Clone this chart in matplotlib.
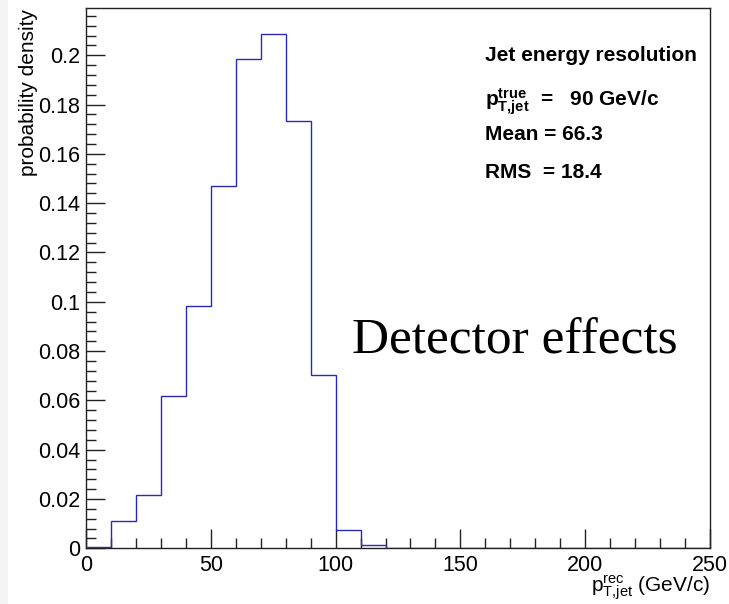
import numpy as np
import matplotlib
matplotlib.use("Agg")
import matplotlib.pyplot as plt
from matplotlib.patches import Rectangle
from matplotlib.ticker import MultipleLocator, FixedLocator, FixedFormatter

plt.rcParams["font.family"] = ["Liberation Sans", "DejaVu Sans"]
plt.rcParams["mathtext.fontset"] = "custom"
plt.rcParams["mathtext.rm"] = "Liberation Sans"
plt.rcParams["mathtext.it"] = "Liberation Sans:italic"
plt.rcParams["mathtext.bf"] = "Liberation Sans:bold"

# Reconstructed jet pT distribution for true pT = 90 GeV/c (10 GeV/c bins)
bin_edges = np.arange(0, 260, 10)
density = [0.0005, 0.0110, 0.0216, 0.0618, 0.0982, 0.1469, 0.1985, 0.2088,
           0.1733, 0.0704, 0.0073, 0.0013, 0.0, 0.0, 0.0, 0.0, 0.0, 0.0,
           0.0, 0.0, 0.0, 0.0, 0.0, 0.0, 0.0]

y_tick_values = [0, 0.02, 0.04, 0.06, 0.08, 0.10, 0.12, 0.14, 0.16, 0.18, 0.20]
y_tick_labels = ["0", "0.02", "0.04", "0.06", "0.08", "0.1", "0.12", "0.14",
                 "0.16", "0.18", "0.2"]
x_tick_values = [0, 50, 100, 150, 200, 250]

stats_title = "Jet energy resolution"
true_pt = 90
mean_val = 66.3
rms_val = 18.4

W, H = 729, 604
fig = plt.figure(figsize=(W / 100, H / 100), dpi=100)
fig.patch.set_facecolor("white")
fig.patches.append(Rectangle((0, 0), 8 / W, 1, transform=fig.transFigure,
                             facecolor="#f4f4f4", edgecolor="none", zorder=-1))

def fx(px):
    return px / W

def fy(py):
    return 1 - py / H

ax = fig.add_axes([fx(86), fy(548.3), fx(710) - fx(86), fy(8) - fy(548.3)])
ax.stairs(density, bin_edges, baseline=0, color="#2a2ab8", linewidth=1.0, zorder=3)

ax.set_xlim(0, 250)
ax.set_ylim(0, (548.3 - 8) / 2465)

ax.xaxis.set_major_locator(FixedLocator(x_tick_values))
ax.xaxis.set_minor_locator(MultipleLocator(10))
ax.yaxis.set_major_locator(FixedLocator(y_tick_values))
ax.yaxis.set_major_formatter(FixedFormatter(y_tick_labels))
ax.yaxis.set_minor_locator(MultipleLocator(0.004))

ax.tick_params(which="both", direction="in", top=False, right=False,
               color="#222222", width=1.0, labelsize=15.5)
ax.tick_params(which="major", length=14)
ax.tick_params(which="minor", length=7)
ax.tick_params(axis="x", pad=5)
ax.tick_params(axis="y", pad=4)
for s in ax.spines.values():
    s.set_color("#222222")
    s.set_linewidth(1.0)

# axis titles, right-aligned at the axis ends
fig.text(fx(710), fy(592), r"$\mathrm{p}_{\mathrm{T{,}jet}}^{\mathrm{rec}}$ (GeV/c)",
         ha="right", va="baseline", fontsize=15)
fig.text(fx(38), fy(9), "probability density", rotation=90, ha="right", va="top",
         fontsize=15)

# statistics block
tx = fx(485)
fig.text(tx, fy(61), stats_title, fontsize=15, fontweight="bold", va="baseline")
fig.text(tx, fy(106),
         r"$\mathbf{p}_{\mathbf{T{,}jet}}^{\mathbf{true}}$  =   " + f"{true_pt} GeV/c",
         fontsize=15, fontweight="bold", va="baseline")
fig.text(tx, fy(140), f"Mean = {mean_val}", fontsize=15, fontweight="bold", va="baseline")
fig.text(tx, fy(178), f"RMS  = {rms_val}", fontsize=15, fontweight="bold", va="baseline")

fig.text(fx(352), fy(353), "Detector effects", fontsize=37,
         family="Liberation Serif", va="baseline")

fig.savefig("out.png", dpi=100)
